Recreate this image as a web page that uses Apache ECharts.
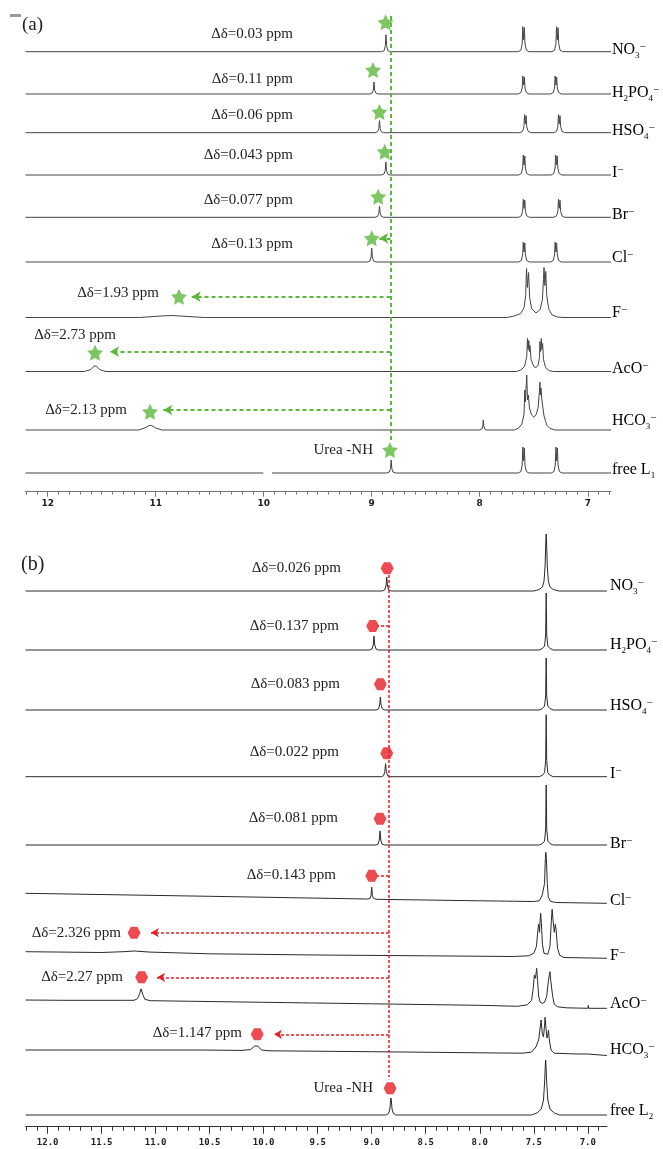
<!DOCTYPE html>
<html><head><meta charset="utf-8">
<script src="https://cdn.jsdelivr.net/npm/echarts@6/dist/echarts.min.js"></script>
<style>html,body{margin:0;padding:0;background:#fff}#c{width:663px;height:1149px}</style>
</head><body><div id="c"></div>
<script>
// ---------- DATA (ppm, intensity above each trace's own baseline) ----------
const anionLabelsA = ['{n|NO}{b|3}{p|−}','{n|H}{b|2}{n|PO}{b|4}{p|−}','{n|HSO}{b|4}{p|−}','{n|I}{p|−}','{n|Br}{p|−}','{n|Cl}{p|−}','{n|F}{p|−}','{n|AcO}{p|−}','{n|HCO}{b|3}{p|−}','{n|free L}{b|1}'];
const anionLabelsB = ['{n|NO}{b|3}{p|−}','{n|H}{b|2}{n|PO}{b|4}{p|−}','{n|HSO}{b|4}{p|−}','{n|I}{p|−}','{n|Br}{p|−}','{n|Cl}{p|−}','{n|F}{p|−}','{n|AcO}{p|−}','{n|HCO}{b|3}{p|−}','{n|free L}{b|2}'];

const deltaTextA = ['Δδ=0.03 ppm','Δδ=0.11 ppm','Δδ=0.06 ppm','Δδ=0.043 ppm','Δδ=0.077 ppm','Δδ=0.13 ppm','Δδ=1.93 ppm','Δδ=2.73 ppm','Δδ=2.13 ppm','Urea -NH'];
const deltaTextB = ['Δδ=0.026 ppm','Δδ=0.137 ppm','Δδ=0.083 ppm','Δδ=0.022 ppm','Δδ=0.081 ppm','Δδ=0.143 ppm','Δδ=2.326 ppm','Δδ=2.27 ppm','Δδ=1.147 ppm','Urea -NH'];

const ticksA = [7, 8, 9, 10, 11, 12];
const ticksB = [7.0, 7.5, 8.0, 8.5, 9.0, 9.5, 10.0, 10.5, 11.0, 11.5, 12.0];

// Panel (a) spectra
const a_NO3 = [[12.205,0],[8.91,0],[8.885,1],[8.874,6],[8.868,17],[8.862,6],[8.851,1],[8.83,0],
 [7.644,0],[7.619,1.5],[7.607,8],[7.601,25],[7.594,12],[7.587,24],[7.581,8],[7.569,1.5],[7.544,0],
 [7.332,0],[7.307,1.5],[7.295,8],[7.289,25],[7.282,12],[7.275,24],[7.269,8],[7.257,1.5],[7.232,0],[6.785,0]];
const a_H2PO4 = [[12.205,0],[9.02,0],[8.996,1],[8.985,4],[8.979,12],[8.973,4],[8.962,1],[8.94,0],
 [7.644,0],[7.619,1.5],[7.607,6],[7.601,18],[7.594,9],[7.587,17],[7.581,6],[7.569,1.5],[7.544,0],
 [7.345,0],[7.32,1.5],[7.308,6],[7.302,18],[7.295,9],[7.288,17],[7.282,6],[7.27,1.5],[7.245,0],[6.785,0]];
const a_HSO4 = [[12.205,0],[8.97,0],[8.945,1],[8.934,4],[8.928,12],[8.922,4],[8.911,1],[8.89,0],
 [7.628,0],[7.603,1.5],[7.591,6],[7.585,18],[7.578,9],[7.571,17],[7.565,6],[7.553,1.5],[7.528,0],
 [7.314,0],[7.289,1.5],[7.277,6],[7.271,18],[7.264,9],[7.257,17],[7.251,6],[7.239,1.5],[7.214,0],[6.785,0]];
const a_I = [[12.205,0],[8.91,0],[8.886,1],[8.875,4.5],[8.869,13],[8.863,4.5],[8.852,1],[8.83,0],
 [7.64,0],[7.615,1.5],[7.603,7],[7.597,20],[7.59,10],[7.583,19],[7.577,7],[7.565,1.5],[7.54,0],
 [7.34,0],[7.315,1.5],[7.303,7],[7.297,20],[7.29,10],[7.283,19],[7.277,7],[7.265,1.5],[7.24,0],[6.785,0]];
const a_Br = [[12.205,0],[8.97,0],[8.945,1],[8.934,4],[8.928,11],[8.922,4],[8.911,1],[8.89,0],
 [7.64,0],[7.615,1.5],[7.603,6],[7.597,18],[7.59,9],[7.583,17],[7.577,6],[7.565,1.5],[7.54,0],
 [7.314,0],[7.289,1.5],[7.277,6],[7.271,18],[7.264,9],[7.257,17],[7.251,6],[7.239,1.5],[7.214,0],[6.785,0]];
const a_Cl = [[12.205,0],[9.04,0],[9.017,1],[9.006,5],[9.0,14],[8.994,5],[8.983,1],[8.96,0],
 [7.64,0],[7.615,1.5],[7.603,7],[7.597,20],[7.59,10],[7.583,19],[7.577,7],[7.565,1.5],[7.54,0],
 [7.345,0],[7.32,1.5],[7.308,7],[7.302,20],[7.295,10],[7.288,19],[7.282,7],[7.27,1.5],[7.245,0],[6.785,0]];
const a_F = [[12.205,0],[11.15,0],[10.95,1.5],[10.85,2],[10.7,1],[10.55,0],
 [7.75,0],[7.68,1.5],[7.62,4],[7.59,10],[7.575,22],[7.567,49],[7.559,30],[7.548,45],[7.538,20],[7.52,9],[7.48,4.5],
 [7.44,8],[7.42,18],[7.41,38],[7.405,50],[7.397,32],[7.389,46],[7.38,22],[7.36,8],[7.33,2.5],[7.28,0.5],[7.22,0],[6.785,0]];
const a_AcO = [[12.205,0],[11.66,0],[11.6,2],[11.57,5.5],[11.56,7],[11.55,5.5],[11.52,2],[11.46,0],
 [7.66,0],[7.62,1.5],[7.585,5],[7.565,15],[7.558,33],[7.552,22],[7.546,31],[7.54,20],[7.535,26],[7.525,12],[7.5,5],[7.48,4],
 [7.46,6],[7.447,14],[7.443,30],[7.437,20],[7.43,33],[7.424,22],[7.418,28],[7.41,12],[7.39,4],[7.36,1],[7.32,0],[6.785,0]];
const a_HCO3 = [[12.205,0],[11.16,0],[11.1,2],[11.06,4.5],[11.05,5],[11.04,4.5],[11.0,2],[10.94,0],
 [8.0,0],[7.98,1],[7.972,4],[7.967,10],[7.962,4],[7.954,1],[7.935,0],
 [7.68,0],[7.64,2],[7.61,6],[7.59,16],[7.583,40],[7.578,28],[7.565,55],[7.558,30],[7.55,35],[7.54,22],[7.52,15],[7.5,13],
 [7.48,15],[7.46,22],[7.448,38],[7.443,48],[7.438,35],[7.433,42],[7.425,30],[7.417,32],[7.405,14],[7.38,5],[7.35,1.5],[7.3,0],[6.785,0]];
const a_L1 = [[12.205,0],[10.003,0],[9.96,'-'],[9.923,0],[8.86,0],[8.837,1],[8.826,4.5],[8.82,13],[8.814,4.5],[8.803,1],[8.78,0],
 [7.644,0],[7.619,1.5],[7.607,8],[7.601,26],[7.594,12],[7.587,25],[7.581,8],[7.569,1.5],[7.544,0],
 [7.338,0],[7.313,1.5],[7.301,8],[7.295,26],[7.288,12],[7.281,25],[7.275,8],[7.263,1.5],[7.238,0],[6.785,0]];

// Panel (b) spectra
const b_NO3 = [[12.205,0],[8.905,0],[8.88,1],[8.868,5],[8.861,14],[8.854,5],[8.842,1],[8.82,0],
 [7.5,0],[7.45,1.5],[7.42,4],[7.405,10],[7.395,25],[7.389,48],[7.385,57],[7.381,48],[7.375,25],[7.365,10],[7.35,4],[7.32,1.5],[7.27,0],[6.823,0]];
const b_H2PO4 = [[12.205,0],[9.02,0],[8.997,1],[8.986,5],[8.979,14],[8.972,5],[8.96,1],[8.94,0],
 [7.45,0],[7.42,1.5],[7.4,4],[7.39,15],[7.385,57],[7.38,15],[7.37,4],[7.35,1.5],[7.32,0],[6.823,0]];
const b_HSO4 = [[12.205,0],[8.96,0],[8.938,1],[8.927,5],[8.92,13],[8.913,5],[8.901,1],[8.88,0],
 [7.45,0],[7.42,1.5],[7.4,4],[7.39,14],[7.385,52],[7.38,14],[7.37,4],[7.35,1.5],[7.32,0],[6.823,0]];
const b_I = [[12.205,0],[8.91,0],[8.89,1],[8.879,5],[8.872,13],[8.865,5],[8.853,1],[8.83,0],
 [7.45,0],[7.42,1.5],[7.4,4],[7.39,16],[7.385,62],[7.38,16],[7.37,4],[7.35,1.5],[7.32,0],[6.823,0]];
const b_Br = [[12.205,0],[8.96,0],[8.94,1],[8.93,5],[8.923,14],[8.916,5],[8.905,1],[8.88,0],
 [7.45,0],[7.42,1.5],[7.4,4],[7.39,16],[7.385,60],[7.38,16],[7.37,4],[7.35,1.5],[7.32,0],[6.823,0]];
const b_Cl = [[12.205,10],[10.5,7],[9.04,4.3],[9.015,5],[9.006,8],[9.0,16],[8.994,8],[8.985,5],[8.96,4],[8.0,2.5],[7.5,1.8],
 [7.45,2.5],[7.43,6],[7.42,9],[7.41,10],[7.4,20],[7.393,45],[7.388,51],[7.383,45],[7.375,20],[7.365,6],[7.345,2],[7.3,0.8],[6.823,0]];
const b_F = [[12.205,6.6],[11.5,5.8],[11.3,6.6],[11.2,7.3],[11.05,6.2],[10.5,4.5],[9.5,3.3],[8.5,2.5],[7.7,1.8],
 [7.55,2.5],[7.5,5],[7.475,12],[7.462,28],[7.455,34],[7.447,26],[7.44,40],[7.436,45],[7.43,36],[7.42,14],[7.405,5],[7.39,3],
 [7.37,4],[7.35,12],[7.337,38],[7.33,49],[7.323,40],[7.31,26],[7.3,34],[7.293,28],[7.28,10],[7.26,3],[7.22,0.8],[6.823,0]];
const b_AcO = [[12.205,8.3],[11.86,8.0],[11.85,9.2],[11.3,8],[11.2,8],[11.17,9.5],[11.15,14],[11.135,19.5],[11.12,14],[11.1,9],[11.05,7.6],
 [10.0,6],[9.0,4.5],[8.0,3],[7.65,2],[7.56,3.5],[7.52,8],[7.505,20],[7.495,33],[7.49,35],[7.484,30],[7.473,40],[7.465,28],[7.455,12],
 [7.44,6],[7.42,5],[7.4,6],[7.38,12],[7.365,27],[7.355,34],[7.35,36.6],[7.343,28],[7.334,26.6],[7.325,12],[7.31,4],[7.28,1.5],[7.2,0.5],
 [7.0,0],[6.995,3],[6.99,0],[6.823,0]];
const b_HCO3 = [[12.205,5],[11.86,5],[11.85,6],[10.6,5],[10.2,4.6],[10.12,5.5],[10.085,9],[10.07,10.2],[10.055,9],[10.02,5],[9.95,4.2],
 [9.0,3.3],[8.0,2.2],[7.6,1.8],[7.52,3],[7.48,8],[7.455,15],[7.44,28],[7.432,35],[7.422,22],[7.41,18],[7.4,30],[7.395,37.7],[7.388,28],
 [7.378,17],[7.37,20],[7.364,25],[7.356,15],[7.34,5],[7.31,1.8],[7.1,1],[7.0,1],[6.99,-0.5],[6.823,-0.5]];
const b_L2 = [[12.205,0],[8.87,0],[8.845,1.5],[8.832,6],[8.826,14],[8.822,17],[8.818,14],[8.812,6],[8.8,1.5],[8.775,0],
 [7.52,0],[7.47,2],[7.43,6],[7.41,15],[7.4,32],[7.393,50],[7.39,55],[7.387,50],[7.38,32],[7.37,15],[7.35,6],[7.31,2],[7.26,0],[6.823,0]];

// marker positions (ppm, display height)
const starPpmA = [8.872, 8.988, 8.928, 8.88, 8.94, 9.0, 10.784, 11.561, 11.052, 8.831];
const starYA   = [469.4, 421.7, 379.7, 340, 295, 253.4, 195, 139, 80, 41.7];
const hexPpmB  = [8.857, 8.991, 8.92, 8.861, 8.923, 9.0, 11.2, 11.13, 10.06, 8.83];
const hexYB    = [558.4, 500.7, 442.4, 373.4, 308, 251, 194, 149.4, 92.4, 38.4];
// shift guide lines: [fromPpm, toPpm, y, arrowhead]
const guideA = [[8.826, 8.93, 253.4, true],[8.826, 10.666, 195, true],[8.826, 11.422, 140, true],[8.826, 10.929, 81.7, true]];
const guideB = [[8.84, 8.95, 500.7, false],[8.84, 8.95, 251, false],[8.84, 11.044, 194, true],[8.84, 10.987, 149.4, true],[8.84, 9.905, 92.4, true]];
const vertA = [8.826, 475.7, 50.7];
const vertB = [8.84, 551.7, 49.7];

// ---------- LAYOUT ----------
const specA = [a_NO3,a_H2PO4,a_HSO4,a_I,a_Br,a_Cl,a_F,a_AcO,a_HCO3,a_L1];
const specB = [b_NO3,b_H2PO4,b_HSO4,b_I,b_Br,b_Cl,b_F,b_AcO,b_HCO3,b_L2];
const offA = [440, 397.7, 359, 316.7, 274.4, 229.7, 174.2, 120.2, 61.7, 18.7];
const offB = [535.7, 476.7, 416.7, 350, 281.7, 223.4, 168.4, 118.4, 71.7, 11.7];
const labelYA = [51, 94, 132, 174, 216, 259, 314, 370, 422, 471];
const labelYB = [587, 646, 707, 775, 845, 902, 957, 1005, 1051, 1112];
const deltaPosA = [[293,34],[293,79],[293,115],[293,155],[293,200],[293,244],[159,293],[116,335],[127,410],[373,450]];
const deltaPosB = [[341,568],[339,626],[340,684],[339,752],[338,818],[336,875],[121,933],[123,977],[242,1033],[373,1088]];

const SERIF = "'Liberation Serif', 'DejaVu Serif', serif";
const GREEN = '#5cb83c', RED = '#e61e26';
const STAR = 'path://M12,0 L15.53,7.15 L23.41,8.29 L17.71,13.85 L19.05,21.71 L12,18 L4.95,21.71 L6.29,13.85 L0.59,8.29 L8.47,7.15 Z';
const HEX = 'path://M0,10 L5,1.3 L15,1.3 L20,10 L15,18.7 L5,18.7 Z';

const minorA = []; for (let v = 68; v <= 122; v++) minorA.push(v / 10);
const minorB = []; for (let v = 69; v <= 122; v++) minorB.push(v / 10);

function shift(pts, off) { return pts.map(p => [p[0], p[1] === '-' ? '-' : p[1] + off]); }

const series = [];
specA.forEach((pts, i) => series.push({type:'line', xAxisIndex:0, yAxisIndex:0, data:shift(pts, offA[i]),
  symbol:'none', showSymbol:false, connectNulls:false, silent:true, lineStyle:{color:'#444', width:1}, z:2}));
specB.forEach((pts, i) => series.push({type:'line', xAxisIndex:2, yAxisIndex:1, data:shift(pts, offB[i]),
  symbol:'none', showSymbol:false, silent:true, lineStyle:{color:'#2a2a2a', width:1}, z:2}));

function guideLines(g, v) {
  const d = [[{coord:[v[0], v[1]], symbol:'none'}, {coord:[v[0], v[2]], symbol:'none'}]];
  g.forEach(a => d.push([{coord:[a[0], a[2]], symbol:'none'}, {coord:[a[1], a[2]], symbol: a[3] ? 'arrow' : 'none'}]));
  return d;
}
series.push({type:'scatter', xAxisIndex:0, yAxisIndex:0, silent:true, z:5,
  data: starPpmA.map((p, i) => [p, starYA[i]]), symbol:STAR, symbolSize:16, itemStyle:{color:GREEN},
  markLine:{silent:true, symbolSize:[8,9], label:{show:false}, lineStyle:{color:GREEN, type:[4,3], width:2}, data: guideLines(guideA, vertA), animation:false}});
series.push({type:'scatter', xAxisIndex:2, yAxisIndex:1, silent:true, z:5,
  data: hexPpmB.map((p, i) => [p, hexYB[i]]), symbol:HEX, symbolSize:[13,12], itemStyle:{color:RED},
  markLine:{silent:true, symbolSize:[7,8], label:{show:false}, lineStyle:{color:RED, type:[3,2], width:1.5}, data: guideLines(guideB, vertB), animation:false}});

const richStyle = {
  n:{fontFamily:SERIF, fontSize:16, color:'#222', lineHeight:18, verticalAlign:'top', padding:[0,0,4,0]},
  b:{fontFamily:SERIF, fontSize:9, color:'#222', lineHeight:9, verticalAlign:'bottom'},
  p:{fontFamily:SERIF, fontSize:11, color:'#222', lineHeight:11, verticalAlign:'top'}
};
const graphic = [];
anionLabelsA.forEach((t, i) => graphic.push({type:'text', x:612, y:labelYA[i]-9, silent:true, style:{text:t, rich:richStyle, verticalAlign:'top'}}));
anionLabelsB.forEach((t, i) => graphic.push({type:'text', x:610, y:labelYB[i]-9, silent:true, style:{text:t, rich:richStyle, verticalAlign:'top'}}));
deltaTextA.forEach((t, i) => graphic.push({type:'text', x:deltaPosA[i][0], y:deltaPosA[i][1], silent:true,
  style:{text:t, font:"15px " + SERIF, fill:'#222', align:'right', verticalAlign:'middle'}}));
deltaTextB.forEach((t, i) => graphic.push({type:'text', x:deltaPosB[i][0], y:deltaPosB[i][1], silent:true,
  style:{text:t, font:"15px " + SERIF, fill:'#222', align:'right', verticalAlign:'middle'}}));
graphic.push({type:'text', x:22, y:25, silent:true, style:{text:'(a)', font:"19px " + SERIF, fill:'#222', verticalAlign:'middle'}});
graphic.push({type:'text', x:21, y:565, silent:true, style:{text:'(b)', font:"20px " + SERIF, fill:'#222', verticalAlign:'middle'}});
graphic.push({type:'rect', silent:true, shape:{x:10, y:14, width:11, height:3}, style:{fill:'#999'}});

function xAx(grid, min, major, minor, isMinor, opts) {
  return {type:'value', gridIndex:grid, min:min, max:12.205, inverse:true, position:'bottom', offset:0,
    splitLine:{show:false},
    axisLine:{show:!isMinor, onZero:false, lineStyle:{color:opts.lineColor, width:1}},
    axisTick:{show:true, customValues: isMinor ? minor : major, length: isMinor ? opts.minorLen : opts.majorLen, lineStyle:{color:opts.lineColor, width:1}},
    axisLabel: isMinor ? {show:false} : {show:true, customValues:major, margin:opts.margin, color:'#222', fontSize:opts.fontSize, fontWeight:'bold', fontFamily:opts.font,
      formatter: v => opts.dec ? v.toFixed(1) : String(Math.round(v))}
  };
}
const optA = {lineColor:'#777', majorLen:5, minorLen:3, margin:7, fontSize:9, font:'DejaVu Sans', dec:false};
const optB = {lineColor:'#333', majorLen:7, minorLen:4, margin:11, fontSize:9, font:'DejaVu Sans Mono', dec:true};

const option = {
  animation:false,
  backgroundColor:'#fff',
  grid:[
    {left:25.5, right:52, top:0, bottom:1149-491.7},
    {left:25.5, right:56.1, top:530, bottom:1149-1126.7}
  ],
  xAxis:[
    xAx(0, 6.785, ticksA, minorA, false, optA),
    xAx(0, 6.785, ticksA, minorA, true, optA),
    xAx(1, 6.823, ticksB, minorB, false, optB),
    xAx(1, 6.823, ticksB, minorB, true, optB)
  ],
  yAxis:[
    {type:'value', gridIndex:0, min:0, max:491.7, show:false},
    {type:'value', gridIndex:1, min:0, max:596.7, show:false}
  ],
  graphic: graphic,
  series: series
};
const chart = echarts.init(document.getElementById('c'), null, {renderer:'canvas'});
chart.setOption(option);
</script></body></html>
